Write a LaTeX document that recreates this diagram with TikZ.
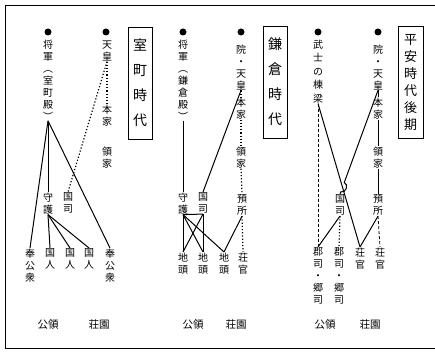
\documentclass[tikz,border=0pt]{standalone}
\usepackage{fontspec}
\newfontfamily\cjk{Noto Sans CJK JP}
\usetikzlibrary{calc}
\begin{document}
\begin{tikzpicture}[x=1pt,y=-1pt,
  vt/.style={font=\cjk\fontsize{10}{12}\selectfont, align=center, inner sep=0.5pt, anchor=north},
  ln/.style={line width=1pt},
  dl/.style={line width=1.2pt, dotted},
  dsh/.style={line width=0.8pt, densely dashed},
  dot/.style={circle, fill=black, inner sep=0pt, minimum size=7pt},
  tbox/.style={draw, line width=0.9pt, minimum width=24pt, minimum height=112pt, inner sep=0pt, align=center},
  ft/.style={font=\cjk\fontsize{10.5}{12}\selectfont, inner sep=1pt}]
\useasboundingbox (0,0) rectangle (435,352);
\draw[line width=1pt] (435,6) -- (5,6) -- (5,348) -- (435,348);

% ---------- panel 1 : Muromachi ----------
\node[tbox, font=\cjk\fontsize{14}{25}\selectfont] (t1) at (140,83) {室\\町\\時\\代};
\node[dot] (d1a) at (48,32) {};
\node[dot] (d1b) at (106,32) {};
\node[vt] (sg1) at (48,39) {将\\軍\\︵\\室\\町\\殿\\︶};
\node[vt] (tn1) at (107,40) {天\\皇};
\node[vt] (hk1) at (107,104) {本\\家};
\node[vt] (rk1) at (107,146) {領\\家};
\node[vt] (sh1) at (48,192) {守\\護};
\node[vt] (kj1) at (68,192) {国\\司};
\node[vt] (hkL) at (30,248) {奉\\公\\衆};
\node[vt] (kna) at (50,248) {国\\人};
\node[vt] (knb) at (70,248) {国\\人};
\node[vt] (knc) at (89,248) {国\\人};
\node[vt] (hkR) at (110,248) {奉\\公\\衆};
\node[ft] (kr1) at (48,325) {公領};
\node[ft] (sn1) at (99,325) {荘園};
\draw[ln] (sg1.south) -- (hkL.north);
\draw[ln] (sg1.south) -- (sh1.north);
\draw[ln] (sg1.south) -- (hkR.north);
\draw[dl] (tn1.south) -- (kj1.north);
\draw[dl] (tn1.south) -- (hk1.north);
\draw[ln] (sh1.south) -- (kna.north);
\draw[ln] (sh1.south) -- (knb.north);
\draw[ln] (sh1.south) -- (knc.north);

% ---------- panel 2 : Kamakura ----------
\node[tbox, font=\cjk\fontsize{14}{25}\selectfont] (t2) at (275,82) {鎌\\倉\\時\\代};
\node[dot] (d2a) at (183,32) {};
\node[dot] (d2b) at (241,32) {};
\node[vt] (sg2) at (183,39) {将\\軍\\︵\\鎌\\倉\\殿\\︶};
\node[vt] (in2) at (241,44) {院\\・\\天\\皇};
\node[vt] (hk2) at (241,97) {本\\家};
\node[vt] (rk2) at (241,146) {領\\家};
\node[vt] (az2) at (242,194) {預\\所};
\node[vt] (sk2) at (243,252) {荘\\官};
\node[vt] (sh2) at (183,192) {守\\護};
\node[vt] (kj2) at (203,192) {国\\司};
\node[vt] (jta) at (183,252) {地\\頭};
\node[vt] (jtb) at (203,252) {地\\頭};
\node[vt] (jtc) at (224,252) {地\\頭};
\node[ft] (kr2) at (193,325) {公領};
\node[ft] (sn2) at (236,325) {荘園};
\draw[ln] (sg2.south) -- (sh2.north);
\draw[ln] (in2.south) -- (kj2.north);
\draw[dl] (in2.south) -- (hk2.north);
\draw[dl] (hk2.south) -- (rk2.north);
\draw[dl] (rk2.south) -- (az2.north);
\draw[dl] (az2.south) -- (sk2.north);
\draw[ln] (sh2.south) -- (jta.north);
\draw[ln] (kj2.south) -- (jtb.north);
\draw[ln] (sh2.south) -- (jtb.north);
\draw[ln] (kj2.south) -- (jta.north);
\draw[ln] (sh2.south) -- (kj2.south);
\draw[ln] (sh2.south) -- (jtc.north);
\draw[ln] (az2.south) -- (jtc.north);

% ---------- panel 3 : late Heian ----------
\node[tbox, minimum width=25pt, font=\cjk\fontsize{13}{17}\selectfont] (t3) at (410.5,82.5) {平\\安\\時\\代\\後\\期};
\node[dot] (d3a) at (318,32) {};
\node[dot] (d3b) at (378,32) {};
\node[vt, font=\cjk\fontsize{10}{13.5}\selectfont] (bs3) at (318,39) {武\\士\\の\\棟\\梁};
\node[vt] (in3) at (378,44) {院\\・\\天\\皇};
\node[vt] (hk3) at (378,97) {本\\家};
\node[vt] (rk3) at (378,146) {領\\家};
\node[vt] (az3) at (378,194) {預\\所};
\node[vt] (kj3) at (340,194) {国\\司};
\node[vt] (gsa) at (318,247) {郡\\司\\・\\郷\\司};
\node[vt] (gsb) at (339,247) {郡\\司\\・\\郷\\司};
\node[vt] (ska) at (360,247) {荘\\官};
\node[vt] (skb) at (380,247) {荘\\官};
\node[ft] (kr3) at (325,325) {公領};
\node[ft] (sn3) at (370,325) {荘園};
\draw[dsh] (bs3.south) -- (gsa.north);
\draw[ln] (bs3.south) -- (ska.north);
\coordinate (X) at (intersection of bs3.south--ska.north and in3.south--kj3.north);
\coordinate (h1) at ($(X)!5pt!(in3.south)$);
\coordinate (h2) at ($(X)!5pt!(kj3.north)$);
\draw[ln] (in3.south) -- (h1) .. controls ($(h1)+(5,1.7)$) and ($(h2)+(5,1.7)$) .. (h2) -- (kj3.north);
\draw[ln] (in3.south) -- (hk3.north);
\draw[ln] (hk3.south) -- (rk3.north);
\draw[ln] (rk3.south) -- (az3.north);
\draw[ln] (kj3.south) -- (gsa.north);
\draw[dl] (kj3.south) -- (gsb.north);
\draw[ln] (az3.south) -- (ska.north);
\draw[dsh] (az3.south) -- (skb.north);
\end{tikzpicture}
\end{document}
